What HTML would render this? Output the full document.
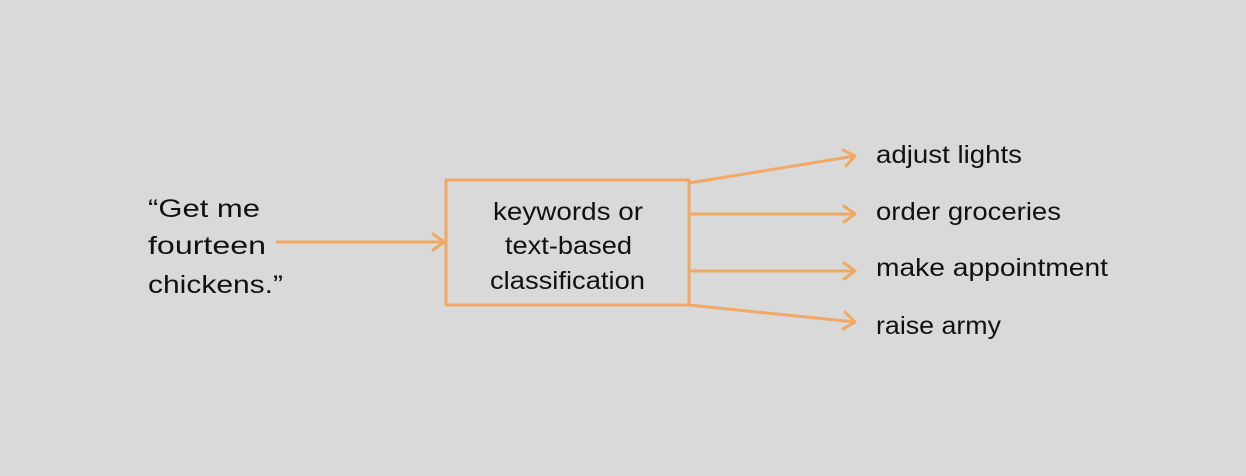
<!DOCTYPE html>
<html><head><meta charset="utf-8"><style>
html,body{margin:0;padding:0;background:#d9d9d9;}
svg{display:block}
text{font-family:"Liberation Sans",sans-serif;font-size:25px;fill:#111;}
</style></head><body>
<svg width="1246" height="476" viewBox="0 0 1246 476">
<rect width="1246" height="476" fill="#d9d9d9"/>
<g stroke="#f0a965" stroke-width="3" fill="none" stroke-linecap="round" stroke-linejoin="round">
<rect x="446" y="180" width="243" height="125"/>
<line x1="277" y1="242" x2="444" y2="242"/>
<polyline points="433,234 444,242 433,250"/>
<line x1="689" y1="183" x2="855" y2="156"/>
<polyline points="843,150 855,156 846,166"/>
<line x1="689" y1="214" x2="855" y2="214"/>
<polyline points="844,206 855,214 844,222"/>
<line x1="689" y1="271" x2="855" y2="271"/>
<polyline points="844,263 855,271 844,279"/>
<line x1="689" y1="305" x2="855" y2="322"/>
<polyline points="845,312 855,322 843,329"/>
</g>
<text x="148" y="217" textLength="112" lengthAdjust="spacingAndGlyphs">“Get me</text>
<text x="148" y="254" textLength="118" lengthAdjust="spacingAndGlyphs">fourteen</text>
<text x="148" y="293" textLength="135" lengthAdjust="spacingAndGlyphs">chickens.”</text>
<text x="493" y="220" textLength="150" lengthAdjust="spacingAndGlyphs">keywords or</text>
<text x="505" y="254" textLength="127" lengthAdjust="spacingAndGlyphs">text-based</text>
<text x="490" y="289" textLength="155" lengthAdjust="spacingAndGlyphs">classification</text>
<text x="876" y="163" textLength="146" lengthAdjust="spacingAndGlyphs">adjust lights</text>
<text x="876" y="220" textLength="185" lengthAdjust="spacingAndGlyphs">order groceries</text>
<text x="876" y="276" textLength="232" lengthAdjust="spacingAndGlyphs">make appointment</text>
<text x="876" y="334" textLength="125" lengthAdjust="spacingAndGlyphs">raise army</text>
</svg>
</body></html>
